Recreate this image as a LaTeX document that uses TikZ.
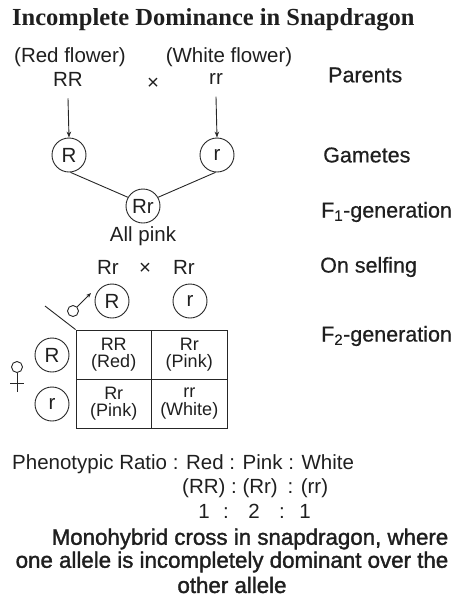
\documentclass[tikz,border=0pt]{standalone}
\usepackage{fontspec}
\setmainfont{Liberation Sans}
\newfontfamily\titlefont{Liberation Serif}
\newfontfamily\medsans[FakeBold=0.6]{Liberation Sans}
\newfontfamily\capsans[FakeBold=1.5]{Liberation Sans}
\usetikzlibrary{arrows.meta}
\begin{document}
\begin{tikzpicture}[x=1pt,y=-1pt,
  every node/.style={inner sep=0pt, text=black!88},
  lbl/.style={font=\fontsize{20.5}{22}\selectfont},
  side/.style={anchor=west, font=\medsans\fontsize{21.5}{23}\selectfont},
  circ/.style={draw, circle, minimum size=34pt, font=\fontsize{20.5}{22}\selectfont},
  cell/.style={draw, minimum width=75.5pt, minimum height=49pt, align=center, font=\fontsize{18}{17.5}\selectfont},
  ln/.style={line width=0.9pt, draw=black!85},
  arr/.style={ln, -{Stealth[length=6pt,width=4.5pt]}},
  captext/.style={font=\capsans\fontsize{22.3}{23}\selectfont}
]
\useasboundingbox (0,0) rectangle (456,598);
% title
\node[anchor=west, font=\titlefont\bfseries\fontsize{24.5}{26}\selectfont] (title) at (12,20) {Incomplete Dominance in Snapdragon};
% parents
\node[lbl] (redf) at (70,57) {(Red flower)};
\node[lbl] (RRp) at (68,79) {RR};
\node[lbl] (x1) at (153,84) {×};
\node[lbl] (whitef) at (229,57) {(White flower)};
\node[lbl] (rrp) at (216,79) {rr};
\node[side] (parents) at (328,75) {Parents};
% gametes
\node[circ, ln] (gR) at (69,155) {R};
\node[circ, ln] (gr) at (217,155) {r};
\node[side] (gam) at (323,155) {Gametes};
\draw[arr] ([yshift=-12pt]RRp.south) -- (gR.north);
\draw[arr] ([yshift=-12pt]rrp.south) -- (gr.north);
% F1
\node[circ, ln] (f1) at (143,206) {Rr};
\draw[ln] (gR.-85) -- (f1.150);
\draw[ln] (gr.-95) -- (f1.30);
\node[lbl] (allpink) at (143,236) {All pink};
\node[side] (f1lab) at (321,212) {F\textsubscript{1}-generation};
% selfing
\node[lbl] (s1) at (108,267) {Rr};
\node[lbl] (x2) at (145,269) {×};
\node[lbl] (s2) at (184,267) {Rr};
\node[side] (selfing) at (320,267) {On selfing};
% male gametes
\node[circ, ln] (mR) at (112,301) {R};
\node[circ, ln] (mr) at (190,301) {r};
\node[draw, ln, circle, minimum size=11pt] (male) at (73,311) {};
\coordinate (maletip) at (91,293);
\draw[ln, -{Stealth[length=5pt,width=4pt]}] (male.45) -- (maletip);
% punnett grid
\node[cell, ln] (c11) at (113.75,354.5) {RR\\(Red)};
\node[cell, ln] (c12) at (189.25,354.5) {Rr\\(Pink)};
\node[cell, ln] (c21) at (113.75,403.5) {Rr\\(Pink)};
\node[cell, ln] (c22) at (189.25,403.5) {rr\\(White)};
\coordinate (diagS) at (45,306);
\draw[ln] (diagS) -- (c11.north west);
% female gametes
\node[circ, ln] (fR) at (52,355) {R};
\node[circ, ln] (fr) at (52,404) {r};
\node[draw, ln, circle, minimum size=11pt] (fem) at (17,367) {};
\coordinate (femEnd) at (17,392);
\coordinate (barL) at (10,383);
\coordinate (barR) at (24,383);
\draw[ln] (fem.south) -- (femEnd);
\draw[ln] (barL) -- (barR);
\node[side] (f2lab) at (321,336) {F\textsubscript{2}-generation};
% ratio
\node[lbl, anchor=west] (ratio) at (12,464) {Phenotypic Ratio : Red : Pink : White};
\node[lbl, anchor=west] (geno) at (182,488) {(RR) : (Rr)\hspace{4pt} : (rr)};
\node[lbl, anchor=base] (n1) at (204,518) {1};
\node[lbl, anchor=base] (k1) at (226,518) {:};
\node[lbl, anchor=base] (n2) at (254,518) {2};
\node[lbl, anchor=base] (k2) at (282,518) {:};
\node[lbl, anchor=base] (n3) at (305,518) {1};
% caption
\node[captext] (cap1) at (250,539) {Monohybrid cross in snapdragon, where};
\node[captext] (cap2) at (232,562) {one allele is incompletely dominant over the};
\node[captext] (cap3) at (232,585) {other allele};
\end{tikzpicture}
\end{document}
